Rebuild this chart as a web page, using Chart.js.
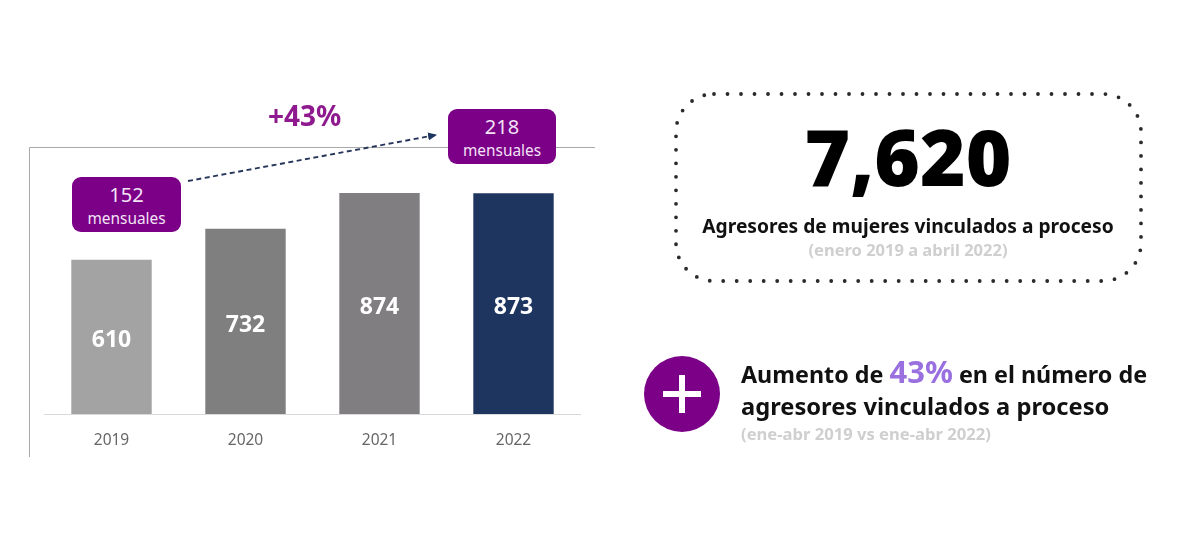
<!DOCTYPE html>
<html lang="es">
<head>
<meta charset="utf-8">
<title>Agresores vinculados a proceso</title>
<script src="https://cdn.jsdelivr.net/npm/chart.js@4/dist/chart.umd.min.js"></script>
<style>
  html, body { margin: 0; background: #fff; overflow: hidden; }
  #page { position: relative; width: 1200px; height: 536px; font-family: "Noto Sans", sans-serif; }
  #myChart { position: absolute; left: 0; top: 0; }
  svg { position: absolute; left: 0; top: 0; }
  .t { position: absolute; white-space: nowrap; transform: translateY(-50%); line-height: 1; }
  .c { transform: translate(-50%, -50%); }
  .tag { position: absolute; width: 108px; height: 55px; background: #7b0087; border-radius: 9px; color: #f3e3f6; text-align: center; }
  .tag b { display: block; font-weight: 400; font-size: 20px; line-height: 20px; margin-top: 8px; }
  .tag span { display: block; font-size: 15.4px; line-height: 18px; margin-top: 5px; }
  .plus { position: absolute; left: 644px; top: 356px; width: 76px; height: 76px; border-radius: 50%; background: #7b0087; }
  .plus::before { content: ""; position: absolute; left: 19px; top: 35px; width: 38px; height: 6px; background: #fff; }
  .plus::after { content: ""; position: absolute; left: 35px; top: 19px; width: 6px; height: 38px; background: #fff; }
</style>
</head>
<body>
<div id="page">
  <canvas id="myChart" width="1200" height="536"></canvas>

  <svg width="1200" height="536">
    <defs>
      <marker id="head" markerWidth="9" markerHeight="8" refX="8" refY="4" orient="auto" markerUnits="userSpaceOnUse">
        <path d="M0 0 L9 4 L0 8 Z" fill="#1e3560"></path>
      </marker>
    </defs>
    <path d="M29.5 457 V147.5 H595" fill="none" stroke="#a9a9a9" stroke-width="1"></path>
    <line x1="188" y1="181" x2="436" y2="135" stroke="#27365a" stroke-width="1.9" stroke-dasharray="5 3.5" marker-end="url(#head)"></line>
    <rect x="676" y="94" width="465" height="187" rx="38" fill="none" stroke="#2a2a2a" stroke-width="3.8" stroke-linecap="round" stroke-dasharray="0 13.5"></rect>
  </svg>

  <div class="t" style="left:268px;top:115px;font-size:28px;font-weight:700;color:#8f1a8f">+43%</div>
  <div class="tag" style="left:72px;top:177px;width:109px"><b id="m0"></b><span>mensuales</span></div>
  <div class="tag" style="left:448px;top:109px"><b id="m1"></b><span>mensuales</span></div>

  <div class="t c" id="total" style="left:908px;top:156px;font-size:78px;font-weight:900;color:#000"></div>
  <div class="t c" style="left:908px;top:226px;font-size:19.2px;font-weight:700;color:#111">Agresores de mujeres vinculados a proceso</div>
  <div class="t c" style="left:908px;top:250px;font-size:16.5px;font-weight:700;color:#cfcfcf">(enero 2019 a abril 2022)</div>

  <div class="plus"></div>
  <div class="t" style="left:741px;top:371px;font-size:23.3px;font-weight:700;color:#111">Aumento de <span style="color:#9a6fe0;font-size:31px">43%</span> en el número de</div>
  <div class="t" style="left:741px;top:407px;font-size:23.7px;font-weight:700;color:#111">agresores vinculados a proceso</div>
  <div class="t" style="left:741px;top:434px;font-size:16.6px;font-weight:700;color:#cfcfcf">(ene-abr 2019 vs ene-abr 2022)</div>
</div>

<script>
const years = ["2019", "2020", "2021", "2022"];
const agresores = [610, 732, 874, 873];
const barColors = ["#a3a3a3", "#7f7f7f", "#807e81", "#1e3560"];
const mensuales = [152, 218];
const total = "7,620";

document.getElementById("m0").textContent = mensuales[0];
document.getElementById("m1").textContent = mensuales[1];
document.getElementById("total").textContent = total;

// numbers inside the bars
const barLabels = {
  id: "barLabels",
  afterDatasetsDraw(chart) {
    const ctx = chart.ctx;
    ctx.save();
    ctx.fillStyle = "#fff";
    ctx.font = "700 23px 'Noto Sans'";
    ctx.textAlign = "center";
    ctx.textBaseline = "middle";
    chart.getDatasetMeta(0).data.forEach((bar, i) => {
      ctx.fillText(agresores[i], bar.x, (bar.y + bar.base) / 2 + 4);
    });
    ctx.restore();
  }
};

new Chart(document.getElementById("myChart"), {
  type: "bar",
  data: {
    labels: years,
    datasets: [{
      data: agresores,
      backgroundColor: barColors,
      barPercentage: 0.6,
      categoryPercentage: 1
    }]
  },
  options: {
    responsive: false,
    animation: false,
    layout: { padding: { left: 44.5, right: 619.5, top: 161, bottom: 0 } },
    plugins: { legend: { display: false }, tooltip: { enabled: false } },
    scales: {
      x: {
        afterFit(scale) { scale.height = 122; },
        grid: { display: false, drawTicks: false },
        border: { color: "#d9d9d9", width: 1 },
        ticks: { color: "#666", padding: 17, font: { family: "Noto Sans", size: 15.5 } }
      },
      y: { display: false, min: 0, max: 1000 }
    }
  },
  plugins: [barLabels]
});
</script>
</body>
</html>
